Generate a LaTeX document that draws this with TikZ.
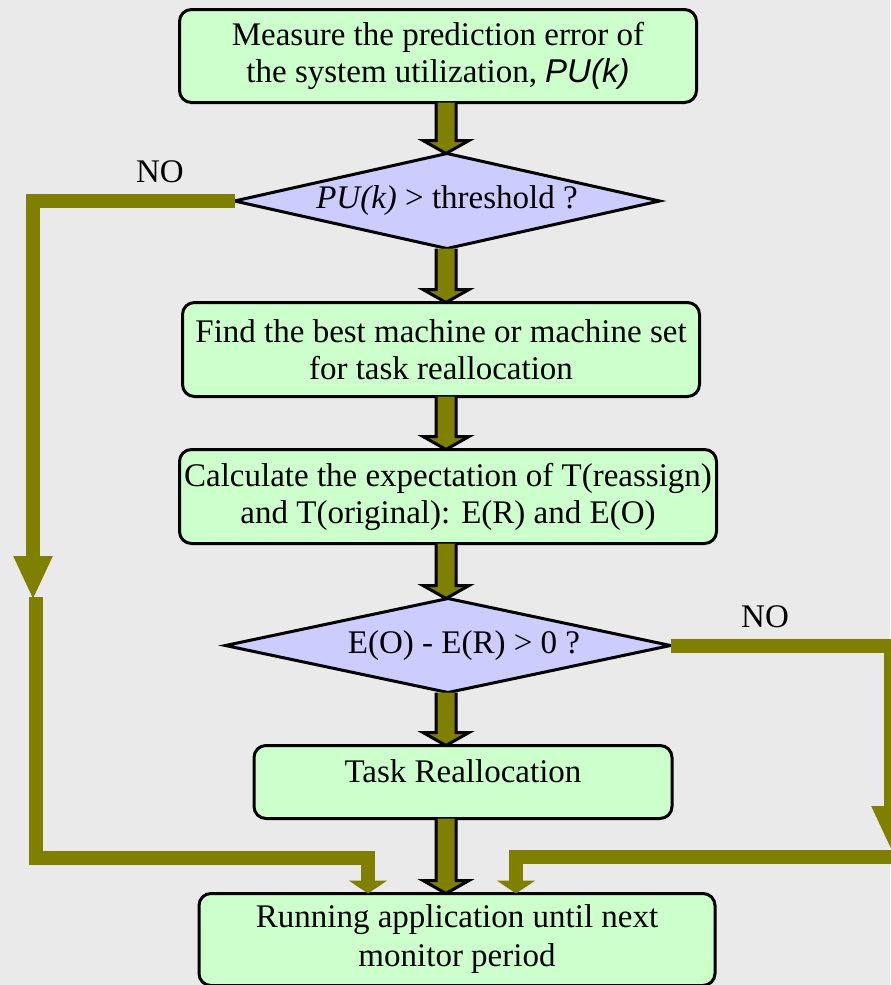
\documentclass[tikz,border=0pt]{standalone}
\usepackage{fontspec}
\setmainfont{Liberation Serif}
\setsansfont{Liberation Sans}
\usetikzlibrary{arrows.meta, positioning, calc, shapes.geometric}

\definecolor{boxgreen}{HTML}{CCFFCC}
\definecolor{decblue}{HTML}{CCCCFF}
\definecolor{olivebar}{HTML}{808000}
\definecolor{bggray}{HTML}{EAEAEA}

% fat outlined arrow between two nodes, along the spine
\newcommand{\bigarrow}[2]{%
  \path[fatarrow] let \p1=(#1.south -| spine), \p2=(#2.north -| spine) in
    ({\x1-5pt},\y1) -- ({\x1-5pt},{\y2+6.5pt}) -- ({\x1-11.5pt},{\y2+6.5pt})
    -- (\x1,\y2) -- ({\x1+11.5pt},{\y2+6.5pt}) -- ({\x1+5pt},{\y2+6.5pt})
    -- ({\x1+5pt},\y1);}

\begin{document}
\begin{tikzpicture}[
  x=0.5pt, y=-0.5pt,
  txt/.style = {font=\fontsize{16.5}{18.5}\selectfont},
  box/.style = {txt, draw, line width=1.5pt, rounded corners=6pt, fill=boxgreen, align=center, inner sep=0pt, outer sep=0pt},
  decision/.style = {txt, diamond, draw, line width=1.5pt, fill=decblue, inner sep=0pt, outer sep=0pt},
  fatarrow/.style = {draw=black, fill=olivebar, line width=1.5pt, line join=miter},
  noline/.style = {draw=olivebar, line width=7pt},
  nohead/.style = {-{Triangle[width=18pt, length=22pt]}},
  dropin/.style = {-{Triangle[width=19pt, length=6.5pt]}}
]

\path[use as bounding box, fill=bggray] (0,0) rectangle (890,985);
\coordinate (spine) at (446,0);

% ======================================================
% Main column
% ======================================================
\node[box, minimum width=258.5pt, minimum height=46.5pt] (measure) at (438,56)
  {Measure the prediction error of\\the system utilization, \textsf{\itshape PU(k)}};

\node[decision, shape aspect=4.47, minimum width=212.5pt, minimum height=47.5pt,
  below=25.5pt of measure, xshift=4.5pt] (check1)
  {\textit{PU(k)} > threshold ?};

\node[box, minimum width=258.5pt, minimum height=47pt, below=27pt of check1, xshift=-3pt] (find)
  {Find the best machine or machine set\\for task reallocation};

\node[box, minimum width=268.5pt, minimum height=47pt, below=26.5pt of find, xshift=3.5pt] (calc)
  {Calculate the expectation of T(reassign)\\and T(original): E(R) and E(O)};

\node[decision, shape aspect=4.73, minimum width=222.5pt, minimum height=47pt,
  below=27.5pt of calc] (check2)
  {\hspace*{16pt}E(O) - E(R) > 0 ?};

\node[box, minimum width=209pt, minimum height=36.5pt, text height=8pt, text depth=8pt,
  below=26.5pt of check2, xshift=7.5pt] (realloc) {Task Reallocation};

\node[box, minimum width=258pt, minimum height=46pt, below=37.5pt of realloc, xshift=-3pt] (run)
  {Running application until next\\[1pt]monitor period};

\bigarrow{measure}{check1}
\bigarrow{check1}{find}
\bigarrow{find}{calc}
\bigarrow{calc}{check2}
\bigarrow{check2}{realloc}
\bigarrow{realloc}{run}

% ======================================================
% NO branches
% ======================================================
\node[txt] (noleft) at (160,172) {NO};
\coordinate (ltip) at (33,600);
\coordinate (lstart) at (36,597);
\coordinate (lin) at (368,858);
\draw[noline, nohead] (check1.west) -| (ltip);
\draw[noline, dropin] (lstart) |- (lin) -- (lin |- run.north);

\node[txt] (noright) at (765,617) {NO};
\coordinate (rtip) at (891,850);
\coordinate (rin) at (516,857);
\draw[noline, nohead] (check2.east) -| (rtip);
\draw[noline, dropin] (rtip) |- (rin) -- (rin |- run.north);
\end{tikzpicture}
\end{document}
